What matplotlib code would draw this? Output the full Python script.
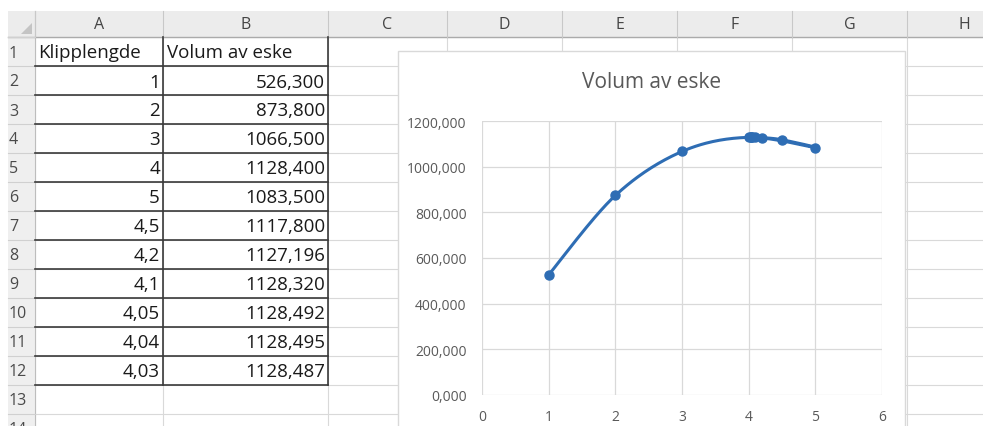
import numpy as np
import matplotlib.pyplot as plt
from matplotlib.patches import Rectangle, Polygon
from matplotlib.ticker import FuncFormatter

# data fra regnearket
klipplengde = [1, 2, 3, 4, 5, 4.5, 4.2, 4.1, 4.05, 4.04, 4.03]
volum = [526.300, 873.800, 1066.500, 1128.400, 1083.500, 1117.800,
         1127.196, 1128.320, 1128.492, 1128.495, 1128.487]
kolonner = ['A', 'B', 'C', 'D', 'E', 'F', 'G', 'H']
overskrifter = ['Klipplengde', 'Volum av eske']
y_ticks = [0, 200, 400, 600, 800, 1000, 1200]
x_ticks = [0, 1, 2, 3, 4, 5, 6]

plt.rcParams['font.family'] = ['Open Sans', 'DejaVu Sans']

W, H = 983, 427
fig = plt.figure(figsize=(W / 100, H / 100), dpi=100)
bg = fig.add_axes([0, 0, 1, 1])
bg.set_xlim(0, W)
bg.set_ylim(H, 0)
bg.axis('off')

# regneark-rutenett
col_x = [35, 163, 328, 447, 562, 677, 792, 907, 1022]
top, rad_h = 38, 29
n_rader = 14
for i in range(n_rader + 1):
    y = top + i * rad_h
    bg.plot([35, W], [y, y], color='#d9d9d9', lw=0.8, zorder=1)
for x in col_x:
    bg.plot([x, x], [top, H], color='#d9d9d9', lw=0.8, zorder=1)

# kolonneoverskrift og radnumre
bg.add_patch(Rectangle((8, 12), W - 8, top - 12, facecolor='#ececec', edgecolor='none', zorder=2))
bg.add_patch(Rectangle((8, top), 35 - 8, H - top, facecolor='#efefef', edgecolor='none', zorder=2))
bg.plot([8, W], [top, top], color='#ababab', lw=1.0, zorder=3)
bg.plot([35, 35], [12, H], color='#bdbdbd', lw=0.8, zorder=3)
for x in col_x:
    bg.plot([x, x], [12, top], color='#c8c8c8', lw=0.8, zorder=3)
bg.add_patch(Polygon([[32, 24], [32, 35], [21, 35]], closed=True, facecolor='#c4c4c4', edgecolor='none', zorder=3))
for i, k in enumerate(kolonner):
    bg.text((col_x[i] + col_x[i + 1]) / 2, 25, k, ha='center', va='center',
            fontsize=11.5, color='#444444', zorder=4)
for i in range(n_rader):
    y = top + i * rad_h
    bg.plot([8, 35], [y, y], color='#d0d0d0', lw=0.8, zorder=3)
    bg.text(9, y + rad_h / 2 + 1, str(i + 1), ha='left', va='center',
            fontsize=11.5, color='#4a4a4a', zorder=4)

# tabell
tfs = 13.5
bg.text(38, top + rad_h / 2 + 1, overskrifter[0], ha='left', va='center', fontsize=tfs, color='#1a1a1a', zorder=4)
bg.text(167, top + rad_h / 2 + 1, overskrifter[1], ha='left', va='center', fontsize=tfs, color='#1a1a1a', zorder=4)
for i, (k, v) in enumerate(zip(klipplengde, volum)):
    yc = top + (i + 1) * rad_h + rad_h / 2 + 1
    bg.text(160, yc, f"{k:g}".replace('.', ','), ha='right', va='center', fontsize=tfs, color='#1a1a1a', zorder=4)
    bg.text(325, yc, f"{v:.3f}".replace('.', ','), ha='right', va='center', fontsize=tfs, color='#1a1a1a', zorder=4)
n_tab = len(volum) + 1
for i in range(1, n_tab + 1):
    y = top + i * rad_h
    bg.plot([35, 328], [y, y], color='#3a3a3a', lw=1.2, zorder=5)
for x in [163, 328]:
    bg.plot([x, x], [top, top + n_tab * rad_h], color='#3a3a3a', lw=1.2, zorder=5)

# diagramboks
bg.add_patch(Rectangle((398, 52), 905 - 398, 420, facecolor='white', edgecolor='#d9d9d9', lw=1.0, zorder=6))
bg.text(652, 83, 'Volum av eske', ha='center', va='center', fontsize=15, color='#595959', zorder=7)


def glatt(x, y, n=40):
    # Bezier-glatting i skjermrom, omtrent slik Excel gjør det
    P = np.column_stack([np.array(x) / 6 * 400, np.array(y) / 1200 * 274])
    P = np.vstack([P[0], P, P[-1]])
    deler = []
    t = np.linspace(0, 1, n)[:, None]
    for i in range(1, len(P) - 2):
        p0, p1, p2, p3 = P[i - 1], P[i], P[i + 1], P[i + 2]
        c1 = p1 + (p2 - p0) / 6
        c2 = p2 - (p3 - p1) / 6
        deler.append((1 - t) ** 3 * p1 + 3 * (1 - t) ** 2 * t * c1 + 3 * (1 - t) * t ** 2 * c2 + t ** 3 * p2)
    s = np.vstack(deler)
    return s[:, 0] * 6 / 400, s[:, 1] * 1200 / 274


ax = fig.add_axes([482 / W, (H - 396) / H, 400 / W, 274 / H], zorder=8)
ax.patch.set_alpha(0)
gx, gy = glatt(klipplengde, volum)
ax.plot(gx, gy, color='#2e6db4', lw=2.2, solid_capstyle='round', zorder=3)
ax.plot(klipplengde, volum, 'o', color='#2e6db4', markersize=6.5, zorder=4)
ax.set_xlim(0, 6)
ax.set_ylim(0, 1200)
ax.set_xticks(x_ticks)
ax.set_yticks(y_ticks)
ax.yaxis.set_major_formatter(FuncFormatter(lambda v, p: f"{v:.3f}".replace('.', ',')))
ax.grid(True, color='#d9d9d9', lw=0.9)
ax.set_axisbelow(True)
for s in ax.spines.values():
    s.set_visible(False)
ax.tick_params(length=0, labelsize=10, labelcolor='#595959')
ax.tick_params(axis='y', pad=11)
ax.tick_params(axis='x', pad=10)
for t in ax.get_xticklabels() + ax.get_yticklabels():
    t.set_clip_on(False)

fig.savefig('out.png', dpi=100)
